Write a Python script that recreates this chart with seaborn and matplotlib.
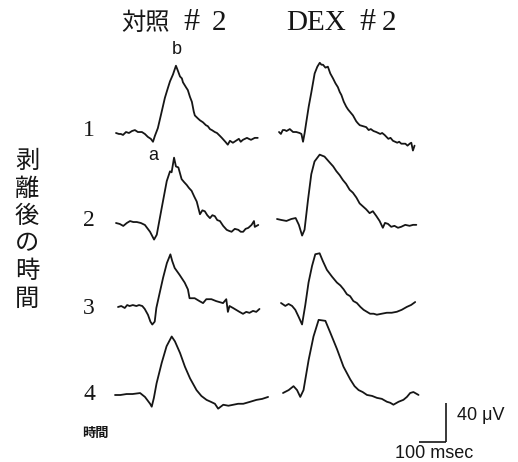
import matplotlib
matplotlib.use("Agg")
import matplotlib.pyplot as plt
import numpy as np
import pandas as pd
import seaborn as sns

# ---------------- data (time in msec from trace start, amplitude in uV) ----------------
column_names = ["対照", "DEX"]
column_number = ["#", "2"]
rows = ["1", "2", "3", "4"]
row_title = "剥離後の時間"

c1_t = [0, 11, 18, 26, 37, 48, 59, 70, 81, 96, 107, 118, 129, 137, 144, 155, 166, 181, 192, 200, 211, 222, 229, 237,
        244, 248, 259, 266, 274, 281, 288, 292, 303, 311, 322, 333, 340, 348, 355, 366, 374, 385, 392, 405, 414, 422,
        433, 444, 455, 462, 470, 485, 492, 500, 514, 525]
c1_v = [0, -1, -1, -2, 1, 0, 2, 3, 1, 1, -1, -4, -6, -9, -3, 5, 18, 36, 46, 53, 60, 69, 64, 58,
        56, 52, 47, 44, 37, 32, 22, 18, 15, 13, 11, 8, 7, 4, 3, 1, 0, -3, -5, -9, -12, -8,
        -10, -8, -6, -9, -7, -5, -6, -7, -5, -5]

d1_t = [0, 7, 14, 21, 28, 40, 52, 64, 76, 83, 89, 95, 101, 110, 120, 132, 142, 151, 157, 163, 172, 181, 190, 200,
        209, 218, 225, 231, 240, 249, 256, 262, 274, 286, 292, 299, 311, 323, 332, 340, 350, 360, 375, 382, 391, 405,
        413, 422, 438, 445, 453, 468, 476, 484, 490, 496, 502]
d1_v = [0, -2, 2, 2, 1, 3, 0, 0, -1, -2, -10, -1, 10, 26, 41, 60, 67, 71, 69, 69, 66, 67, 60, 55,
        50, 46, 41, 38, 31, 26, 23, 21, 17, 11, 9, 7, 6, 5, 2, 3, 1, 0, -2, -1, -3, -7,
        -6, -9, -11, -10, -12, -12, -14, -12, -11, -19, -14]

c2_t = [0, 14, 27, 40, 52, 64, 77, 92, 107, 126, 141, 151, 169, 188, 200, 206, 215, 222, 231, 243, 252, 262, 270, 280,
        290, 299, 311, 320, 329, 338, 348, 357, 366, 375, 385, 397, 410, 418, 428, 440, 453, 462, 471, 480, 490, 502,
        511, 514, 527]
c2_v = [0, -1, -3, 0, 2, 1, 1, 0, -2, -9, -17, -12, 15, 43, 53, 52, 67, 58, 57, 45, 42, 39, 36, 33,
        27, 22, 9, 13, 12, 8, 5, 8, 7, 3, 2, -3, -7, -8, -9, -6, -7, -9, -9, -6, -5, -2,
        2, -4, -2]

d2_t = [0, 16, 35, 53, 69, 81, 93, 102, 115, 127, 139, 158, 176, 195, 208, 220, 232, 244, 256, 269, 281, 294, 306,
        318, 330, 343, 355, 368, 380, 392, 400, 411, 423, 435, 448, 460, 475, 491, 504, 516]
d2_v = [0, -1, -2, 0, 1, -6, -17, -11, 20, 46, 59, 66, 64, 58, 54, 49, 45, 40, 36, 30, 27, 22, 16,
        13, 10, 6, 8, 3, -2, -9, -4, -5, -8, -7, -9, -8, -6, -7, -6, -6]

c3_t = [0, 12, 25, 34, 43, 55, 68, 78, 90, 99, 111, 120, 127, 136, 142, 154, 167, 181, 194, 201, 210, 228, 247, 259,
        265, 284, 302, 315, 327, 346, 364, 389, 401, 407, 413, 426, 438, 450, 463, 475, 487, 500, 512, 524]
c3_v = [0, 1, -1, 2, 1, 2, 1, 2, 1, -2, -8, -15, -18, -15, -1, 14, 30, 45, 54, 47, 40, 33, 25, 18,
        9, 9, 6, 4, 8, 8, 6, 4, 8, -5, 1, -1, -3, -5, -7, -5, -6, -4, -5, -2]

d3_t = [0, 16, 28, 41, 53, 65, 78, 90, 102, 115, 127, 143, 155, 170, 189, 207, 220, 232, 244, 256, 268, 281, 294, 306,
        318, 330, 343, 355, 373, 392, 410, 429, 447, 466, 482, 497]
d3_v = [0, -3, -1, -3, -7, -14, -22, -2, 21, 38, 50, 51, 43, 34, 27, 21, 18, 14, 9, 7, 2, 0, -4, -7,
        -9, -11, -11, -12, -11, -10, -10, -9, -7, -4, -2, 1]

c4_t = [0, 20, 43, 65, 93, 111, 130, 136, 144, 154, 173, 191, 210, 222, 241, 259, 278, 302, 320, 339, 355, 370, 382,
        401, 420, 438, 456, 475, 500, 524, 545, 567]
c4_v = [0, 0, 1, 1, 2, -2, -9, -12, -3, 12, 33, 50, 60, 55, 43, 29, 17, 5, -1, -5, -7, -9, -14,
        -10, -11, -10, -9, -9, -7, -5, -4, -2]

d4_t = [0, 21, 39, 52, 64, 76, 95, 113, 132, 157, 175, 200, 224, 249, 265, 280, 295, 311, 330, 348, 366, 385, 397,
        409, 428, 446, 459, 471, 483, 502]
d4_v = [0, 3, 7, 3, -4, 3, 34, 58, 75, 74, 62, 45, 27, 14, 7, 3, 1, -2, -3, -5, -6, -9, -10,
        -12, -9, -7, -4, 0, 1, -2]

scale_time_ms = 100
scale_amp_uv = 40

# ---------------- layout ----------------
W, H = 518, 462
MS_PER_PX = 100 / 27.0
UV_PER_PX = 40 / 39.0


def X(px):
    return px * MS_PER_PX


def Y(py):
    return -py * UV_PER_PX


# trace origin (left end, baseline) in pixel positions
origins = {
    ("1", 0): (116, 133), ("1", 1): (279, 132),
    ("2", 0): (116, 223), ("2", 1): (277, 219),
    ("3", 0): (118, 307), ("3", 1): (281, 303),
    ("4", 0): (115, 395), ("4", 1): (283, 393),
}
traces = {
    ("1", 0): (c1_t, c1_v), ("1", 1): (d1_t, d1_v),
    ("2", 0): (c2_t, c2_v), ("2", 1): (d2_t, d2_v),
    ("3", 0): (c3_t, c3_v), ("3", 1): (d3_t, d3_v),
    ("4", 0): (c4_t, c4_v), ("4", 1): (d4_t, d4_v),
}

frames = []
for key, (t, v) in traces.items():
    ox, oy = origins[key]
    frames.append(pd.DataFrame({
        "x": X(ox) + np.asarray(t, float),
        "y": Y(oy) + np.asarray(v, float),
        "trace": f"{key[0]}-{key[1]}",
    }))
df = pd.concat(frames, ignore_index=True)

sns.set_theme(style="white")
plt.rcParams["font.family"] = ["Liberation Serif", "Noto Sans CJK JP", "DejaVu Sans"]

INK = "#161616"
fig = plt.figure(figsize=(W / 100, H / 100), dpi=100)
ax = fig.add_axes([0, 0, 1, 1])
ax.set_xlim(0, X(W))
ax.set_ylim(Y(H), 0)
ax.axis("off")

sns.lineplot(data=df, x="x", y="y", units="trace", estimator=None, sort=False,
             color=INK, lw=1.3, ax=ax, legend=False)

# column titles (pieces placed to match the spaced typesetting)
ax.text(X(146), Y(23), column_names[0], fontsize=17.5, color=INK, ha="center", va="center",
        family=["Noto Sans CJK JP"])
ax.text(X(316), Y(23), column_names[1], fontsize=21, color=INK, ha="center", va="center",
        family=["Liberation Serif"])
for cx in (191, 367):
    ax.text(X(cx), Y(23), column_number[0], fontsize=23, color=INK, ha="center", va="center",
            family=["Liberation Serif"])
for cx in (219, 389):
    ax.text(X(cx), Y(23), column_number[1], fontsize=21, color=INK, ha="center", va="center",
            family=["Liberation Serif"])

# row numbers
row_y = [131, 221, 309, 395]
for lab, ry in zip(rows, row_y):
    ax.text(X(89), Y(ry), lab, fontsize=17, color=INK, ha="center", va="center",
            family=["Liberation Serif"])

# vertical row title
for i, ch in enumerate(row_title):
    ax.text(X(27), Y(161 + i * 27.5), ch, fontsize=17.5, color=INK, ha="center", va="center",
            family=["Noto Sans CJK JP"])

ax.text(X(95), Y(433), "時間", fontsize=9.5, color=INK, ha="center", va="center",
        family=["Noto Sans CJK JP"], fontweight="bold")

# wave annotations
ax.text(X(177), Y(49), "b", fontsize=13, color=INK, ha="center", va="center", family=["Liberation Sans"])
ax.text(X(153), Y(156), "a", fontsize=13, color=INK, ha="center", va="center", family=["Liberation Sans"])

# scale bar
bx, by = X(446), Y(442)
ax.plot([bx - scale_time_ms, bx], [by, by], color=INK, lw=1.2, solid_capstyle="butt")
ax.plot([bx, bx], [by, by + scale_amp_uv], color=INK, lw=1.2, solid_capstyle="butt")
ax.text(X(457), Y(416), "40 μV", fontsize=13, color=INK, ha="left", va="center", family=["Liberation Sans"])
ax.text(X(434), Y(453), "100 msec", fontsize=13, color=INK, ha="center", va="center", family=["Liberation Sans"])

fig.savefig("out.png", dpi=100, facecolor="white")
